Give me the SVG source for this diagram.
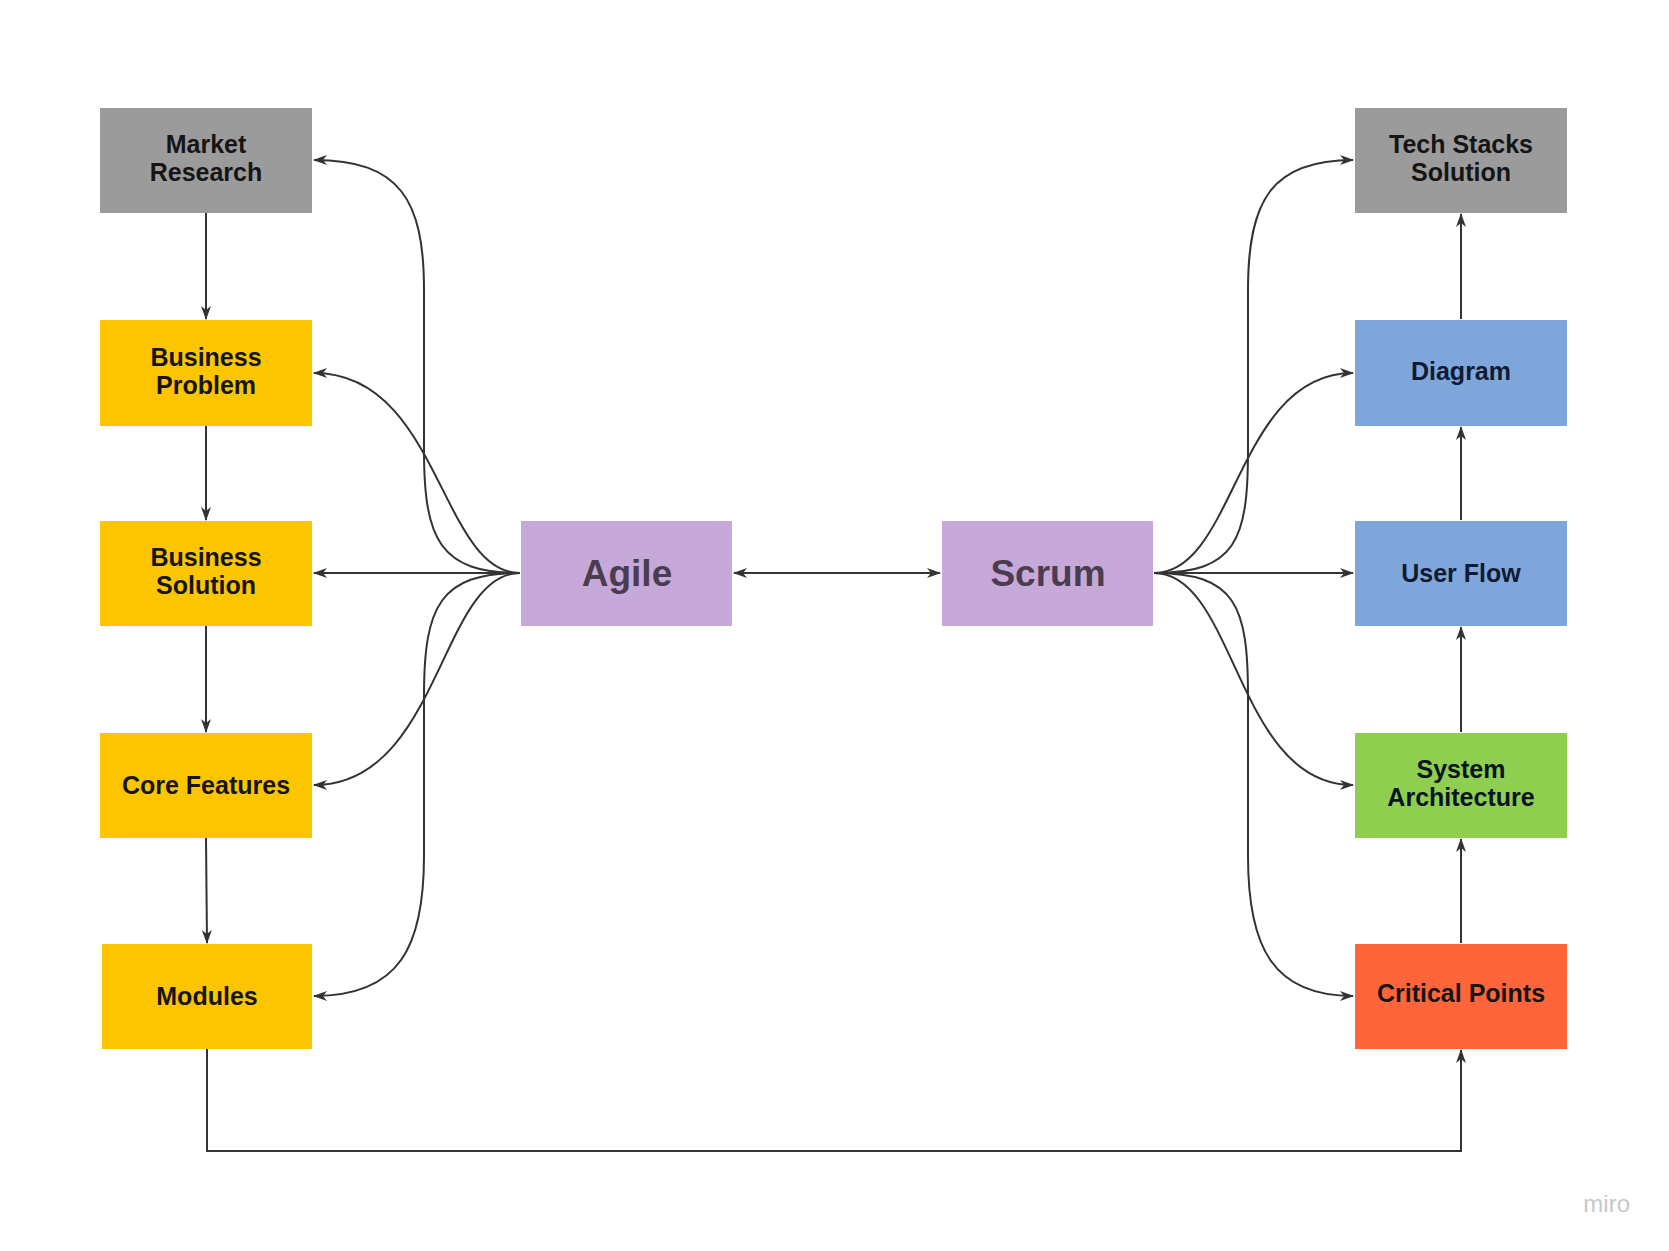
<svg xmlns="http://www.w3.org/2000/svg" width="1669" height="1251" viewBox="0 0 1669 1251">
<style>
.b{font-family:"Liberation Sans",Arial,sans-serif;font-weight:bold;font-size:25px;fill:#151515;text-anchor:middle}
.big{font-family:"Liberation Sans",Arial,sans-serif;font-weight:bold;font-size:37px;fill:#4a3d4f;text-anchor:middle}
.c{fill:none;stroke:#333;stroke-width:2}
</style>
<defs>
<marker id="a" viewBox="0 0 14 10" refX="13" refY="5" markerWidth="14" markerHeight="10" markerUnits="userSpaceOnUse" orient="auto-start-reverse"><path d="M0,0 L14,5 L0,10 L4,5 z" fill="#333"/></marker>
</defs>
<rect width="1669" height="1251" fill="#fff"/>
<g id="market"><rect x="100" y="108" width="212" height="105" fill="#9b9b9b"/><text class="b" x="206" y="153">Market</text><text class="b" x="206" y="181">Research</text></g>
<g id="bproblem"><rect x="100" y="320" width="212" height="106" fill="#fdc500"/><text class="b" x="206" y="366">Business</text><text class="b" x="206" y="394">Problem</text></g>
<g id="bsolution"><rect x="100" y="521" width="212" height="105" fill="#fdc500"/><text class="b" x="206" y="566">Business</text><text class="b" x="206" y="594">Solution</text></g>
<g id="core"><rect x="100" y="733" width="212" height="105" fill="#fdc500"/><text class="b" x="206" y="794">Core Features</text></g>
<g id="modules"><rect x="102" y="944" width="210" height="105" fill="#fdc500"/><text class="b" x="207" y="1005">Modules</text></g>
<g id="agile"><rect x="521" y="521" width="211" height="105" fill="#c6a9d8"/><text class="big" x="627" y="586">Agile</text></g>
<g id="scrum"><rect x="942" y="521" width="211" height="105" fill="#c6a9d8"/><text class="big" x="1048" y="586">Scrum</text></g>
<g id="tech"><rect x="1355" y="108" width="212" height="105" fill="#9b9b9b"/><text class="b" x="1461" y="153">Tech Stacks</text><text class="b" x="1461" y="181">Solution</text></g>
<g id="diagram"><rect x="1355" y="320" width="212" height="106" fill="#7fa6da"/><text class="b" x="1461" y="380" fill="#0f1a33" style="fill:#0f1a33">Diagram</text></g>
<g id="userflow"><rect x="1355" y="521" width="212" height="105" fill="#7fa6da"/><text class="b" x="1461" y="582" style="fill:#0f1a33">User Flow</text></g>
<g id="sysarch"><rect x="1355" y="733" width="212" height="105" fill="#8ecf4f"/><text class="b" x="1461" y="778" style="fill:#0a1420">System</text><text class="b" x="1461" y="806" style="fill:#0a1420">Architecture</text></g>
<g id="critical"><rect x="1355" y="944" width="212" height="105" fill="#fe653b"/><text class="b" x="1461" y="1002">Critical Points</text></g>
<text x="1630" y="1212" font-family="'Liberation Sans',Arial,sans-serif" font-size="24" fill="#c8c8c8" text-anchor="end">miro</text>
<g id="connectors">
<path class="c" d="M206,213 V319" marker-end="url(#a)"/>
<path class="c" d="M206,426 V520" marker-end="url(#a)"/>
<path class="c" d="M206,626 V732" marker-end="url(#a)"/>
<path class="c" d="M206,838 L207,943" marker-end="url(#a)"/>
<path class="c" d="M207,1049 V1151 H1461 V1050" marker-end="url(#a)"/>
<path class="c" d="M1461,943 V839" marker-end="url(#a)"/>
<path class="c" d="M1461,732 V627" marker-end="url(#a)"/>
<path class="c" d="M1461,520 V427" marker-end="url(#a)"/>
<path class="c" d="M1461,319 V214" marker-end="url(#a)"/>
<path class="c" d="M734,573 H940" marker-start="url(#a)" marker-end="url(#a)"/>
<path class="c" d="M520,573 H314" marker-end="url(#a)"/>
<path class="c" d="M520,573 C440,573 424,540 424,450 L424,290 C424,200 400,160 314,160" marker-end="url(#a)"/>
<path class="c" d="M520,573 C440,573 440,373 314,373" marker-end="url(#a)"/>
<path class="c" d="M520,573 C440,573 440,785 314,785" marker-end="url(#a)"/>
<path class="c" d="M520,573 C440,573 424,606 424,696 L424,856 C424,946 400,996 314,996" marker-end="url(#a)"/>
<path class="c" d="M1154,573 H1353" marker-end="url(#a)"/>
<path class="c" d="M1154,573 C1236,573 1248,540 1248,450 L1248,290 C1248,200 1272,160 1353,160" marker-end="url(#a)"/>
<path class="c" d="M1154,573 C1236,573 1236,373 1353,373" marker-end="url(#a)"/>
<path class="c" d="M1154,573 C1236,573 1236,785 1353,785" marker-end="url(#a)"/>
<path class="c" d="M1154,573 C1236,573 1248,606 1248,696 L1248,856 C1248,946 1272,996 1353,996" marker-end="url(#a)"/>
</g>
</svg>
